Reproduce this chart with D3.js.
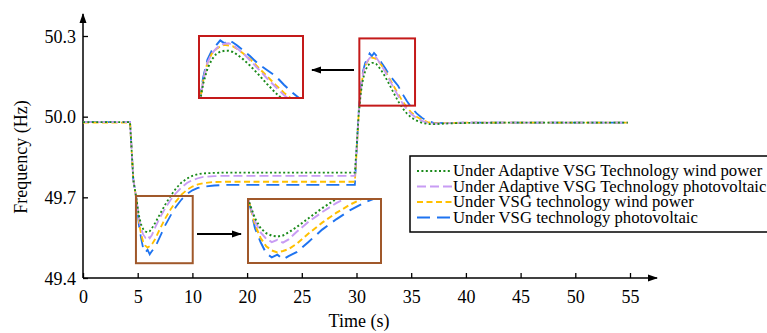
<!DOCTYPE html>
<html>
<head>
<meta charset="utf-8">
<script src="https://cdn.jsdelivr.net/npm/d3@7"></script>
<style>
  body { margin: 0; background: #fff; }
  svg, svg text { font-family: "Liberation Serif", "Times New Roman", Times, serif !important; }
</style>
</head>
<body>
<svg id="chart" width="767" height="333"></svg>
<script>
// axis position units (the axis labels skip 15, so positions and labels are kept apart)
const time = [0, 4.3, 4.6, 4.9, 5.1, 5.3, 5.5, 5.7, 5.9, 6.1, 6.3, 6.6, 7.0, 7.5, 8.0, 8.5, 9.0, 9.5, 10.0, 10.5, 11, 12, 13, 15, 20, 24.85,
  25.0, 25.2, 25.4, 25.6, 25.8, 26.0, 26.2, 26.4, 26.6, 26.8, 27.0, 27.3, 27.6, 28.0, 28.4, 28.8, 29.2, 29.6, 30.0, 30.5, 31.0, 31.5, 32.0, 33, 34, 36, 40, 49.8];

const adaptiveWind = [49.98, 49.98, 49.765, 49.69, 49.635, 49.60, 49.582, 49.573, 49.570, 49.574, 49.585, 49.605, 49.635, 49.672, 49.705, 49.733, 49.755, 49.770, 49.780, 49.786, 49.789, 49.791, 49.792, 49.792, 49.792, 49.792,
  49.88, 50.01, 50.09, 50.14, 50.17, 50.188, 50.197, 50.2, 50.2, 50.196, 50.187, 50.17, 50.15, 50.12, 50.088, 50.058, 50.032, 50.012, 49.997, 49.985, 49.977, 49.973, 49.972, 49.974, 49.976, 49.977, 49.978, 49.978];
const adaptivePv = [49.98, 49.98, 49.765, 49.69, 49.625, 49.585, 49.562, 49.550, 49.558, 49.548, 49.560, 49.588, 49.622, 49.658, 49.690, 49.716, 49.737, 49.753, 49.764, 49.771, 49.776, 49.779, 49.780, 49.780, 49.780, 49.780,
  49.87, 50.01, 50.10, 50.16, 50.19, 50.207, 50.218, 50.224, 50.225, 50.22, 50.208, 50.19, 50.168, 50.138, 50.107, 50.078, 50.05, 50.028, 50.01, 49.995, 49.984, 49.977, 49.974, 49.975, 49.977, 49.978, 49.978, 49.978];
const vsgWind = [49.978, 49.978, 49.765, 49.69, 49.612, 49.565, 49.535, 49.52, 49.513, 49.518, 49.525, 49.545, 49.58, 49.62, 49.655, 49.685, 49.71, 49.728, 49.74, 49.748, 49.753, 49.757, 49.758, 49.758, 49.758, 49.758,
  49.86, 50.01, 50.10, 50.16, 50.19, 50.205, 50.215, 50.22, 50.218, 50.215, 50.206, 50.19, 50.172, 50.143, 50.114, 50.085, 50.058, 50.035, 50.016, 50.0, 49.988, 49.98, 49.976, 49.976, 49.977, 49.978, 49.978, 49.978];
const vsgPv = [49.98, 49.98, 49.765, 49.69, 49.60, 49.55, 49.51, 49.495, 49.505, 49.488, 49.50, 49.515, 49.55, 49.595, 49.632, 49.665, 49.692, 49.712, 49.726, 49.735, 49.74, 49.744, 49.746, 49.746, 49.746, 49.746,
  49.86, 50.02, 50.11, 50.17, 50.20, 50.218, 50.235, 50.225, 50.237, 50.228, 50.218, 50.2, 50.182, 50.155, 50.135, 50.115, 50.085, 50.058, 50.035, 50.012, 49.995, 49.984, 49.978, 49.976, 49.977, 49.978, 49.978, 49.978];

const xTickPos = [0, 5, 10, 15, 20, 25, 30, 35, 40, 45, 50];
const xTickLabels = ['0', '5', '10', '20', '25', '30', '35', '40', '45', '50', '55'];
const yTicks = [49.4, 49.7, 50.0, 50.3];
const seriesNames = [
  'Under Adaptive VSG Technology wind power',
  'Under Adaptive VSG Technology photovoltaic',
  'Under VSG technology wind power',
  'Under VSG technology photovoltaic'
];

const series = [
  { name: seriesNames[0], values: adaptiveWind, color: '#1b8a1b', dash: '2,2.4' },
  { name: seriesNames[1], values: adaptivePv, color: '#c89cf4', dash: '9,4' },
  { name: seriesNames[2], values: vsgWind, color: '#ffc000', dash: '6,3.5' },
  { name: seriesNames[3], values: vsgPv, color: '#1e73f0', dash: '13,7' }
];

const svg = d3.select('#chart');
const x = d3.scaleLinear().domain([0, 50]).range([83, 630]);
const y = d3.scaleLinear().domain([49.4, 50.3]).range([278, 36]);

const defs = svg.append('defs');
defs.append('marker')
  .attr('id', 'arrow')
  .attr('viewBox', '0 0 10 10')
  .attr('refX', 9).attr('refY', 5)
  .attr('markerWidth', 10).attr('markerHeight', 10)
  .attr('markerUnits', 'userSpaceOnUse')
  .attr('orient', 'auto')
  .append('path').attr('d', 'M0,1.5 L10,5 L0,8.5 Z').attr('fill', '#000');

// axes
const xAxis = svg.append('g')
  .attr('transform', `translate(0,${y(49.4)})`)
  .call(d3.axisBottom(x).tickValues(xTickPos).tickFormat((d, i) => xTickLabels[i]).tickSizeInner(-5).tickSizeOuter(0).tickPadding(12));
xAxis.attr('font-family', null).attr('font-size', null);
xAxis.select('.domain').remove();
xAxis.selectAll('text').attr('font-size', 18).attr('fill', '#000');
xAxis.selectAll('line').attr('stroke-width', 1.3);

const yAxis = svg.append('g')
  .attr('transform', `translate(${x(0)},0)`)
  .call(d3.axisLeft(y).tickValues(yTicks).tickFormat(d3.format('.1f')).tickSizeInner(-5).tickSizeOuter(0).tickPadding(7));
yAxis.attr('font-family', null).attr('font-size', null);
yAxis.select('.domain').remove();
yAxis.selectAll('text').attr('font-size', 18).attr('fill', '#000').attr('dy', '0.35em');
yAxis.selectAll('line').attr('stroke-width', 1.3);

svg.append('line')
  .attr('x1', x(0)).attr('y1', y(49.4)).attr('x2', 657).attr('y2', y(49.4))
  .attr('stroke', '#000').attr('stroke-width', 1.5).attr('marker-end', 'url(#arrow)');
svg.append('line')
  .attr('x1', x(0)).attr('y1', y(49.4)).attr('x2', x(0)).attr('y2', 14)
  .attr('stroke', '#000').attr('stroke-width', 1.5).attr('marker-end', 'url(#arrow)');

svg.append('text')
  .attr('x', 359).attr('y', 327)
  .attr('text-anchor', 'middle').attr('font-size', 18)
  .text('Time (s)');
svg.append('text')
  .attr('transform', 'translate(27,157) rotate(-90)')
  .attr('text-anchor', 'middle').attr('font-size', 18)
  .text('Frequency (Hz)');

// curves
function drawCurves(g, sx, sy, width) {
  const line = d3.line().x((d, i) => sx(time[i])).y(d => sy(d));
  [...series].reverse().forEach(s => {
    g.append('path')
      .datum(s.values)
      .attr('d', line)
      .attr('fill', 'none')
      .attr('stroke', s.color)
      .attr('stroke-width', width)
      .attr('stroke-dasharray', s.dash);
  });
}
drawCurves(svg.append('g'), x, y, 1.8);

// zoom windows (data units) and their insets (pixels)
const zooms = [
  { win: { x0: 25.26, x1: 30.35, y0: 50.041, y1: 50.291 }, inset: { x: 199, y: 36, w: 104, h: 62 },
    dom: { x: [25.2, 30.1], y: [50.04, 50.25] }, color: '#c41a1a', arrow: [354, 70, 312, 70], id: 'clipPeak' },
  { win: { x0: 4.84, x1: 10.03, y0: 49.455, y1: 49.705 }, inset: { x: 248, y: 199, w: 133, h: 64 },
    dom: { x: [4.85, 9.6], y: [49.475, 49.705] }, color: '#a0582a', arrow: [197, 234, 241, 234], id: 'clipDip' }
];

zooms.forEach(z => {
  svg.append('rect')
    .attr('x', x(z.win.x0)).attr('y', y(z.win.y1))
    .attr('width', x(z.win.x1) - x(z.win.x0)).attr('height', y(z.win.y0) - y(z.win.y1))
    .attr('fill', 'none').attr('stroke', z.color).attr('stroke-width', 2);

  const r = z.inset;
  defs.append('clipPath').attr('id', z.id)
    .append('rect').attr('x', r.x).attr('y', r.y).attr('width', r.w).attr('height', r.h);
  svg.append('rect').attr('x', r.x).attr('y', r.y).attr('width', r.w).attr('height', r.h).attr('fill', '#fff');
  const ix = d3.scaleLinear().domain(z.dom.x).range([r.x, r.x + r.w]);
  const iy = d3.scaleLinear().domain(z.dom.y).range([r.y + r.h, r.y]);
  drawCurves(svg.append('g').attr('clip-path', `url(#${z.id})`), ix, iy, 2);
  svg.append('rect').attr('x', r.x).attr('y', r.y).attr('width', r.w).attr('height', r.h)
    .attr('fill', 'none').attr('stroke', z.color).attr('stroke-width', 2);

  svg.append('line')
    .attr('x1', z.arrow[0]).attr('y1', z.arrow[1]).attr('x2', z.arrow[2]).attr('y2', z.arrow[3])
    .attr('stroke', '#000').attr('stroke-width', 1.8).attr('marker-end', 'url(#arrow)');
});

// legend
const legend = svg.append('g').attr('transform', 'translate(410,156)');
legend.append('rect')
  .attr('width', 362).attr('height', 76)
  .attr('fill', '#fff').attr('stroke', '#000').attr('stroke-width', 1.5);
series.forEach((s, i) => {
  const row = legend.append('g').attr('transform', `translate(0,${20 + i * 15.5})`);
  row.append('line')
    .attr('x1', 7).attr('x2', 42).attr('y1', -5).attr('y2', -5)
    .attr('stroke', s.color).attr('stroke-width', 1.8).attr('stroke-dasharray', s.dash);
  row.append('text')
    .attr('x', 43).attr('y', 0)
    .attr('font-size', 16.7)
    .text(s.name);
});
</script>
</body>
</html>
